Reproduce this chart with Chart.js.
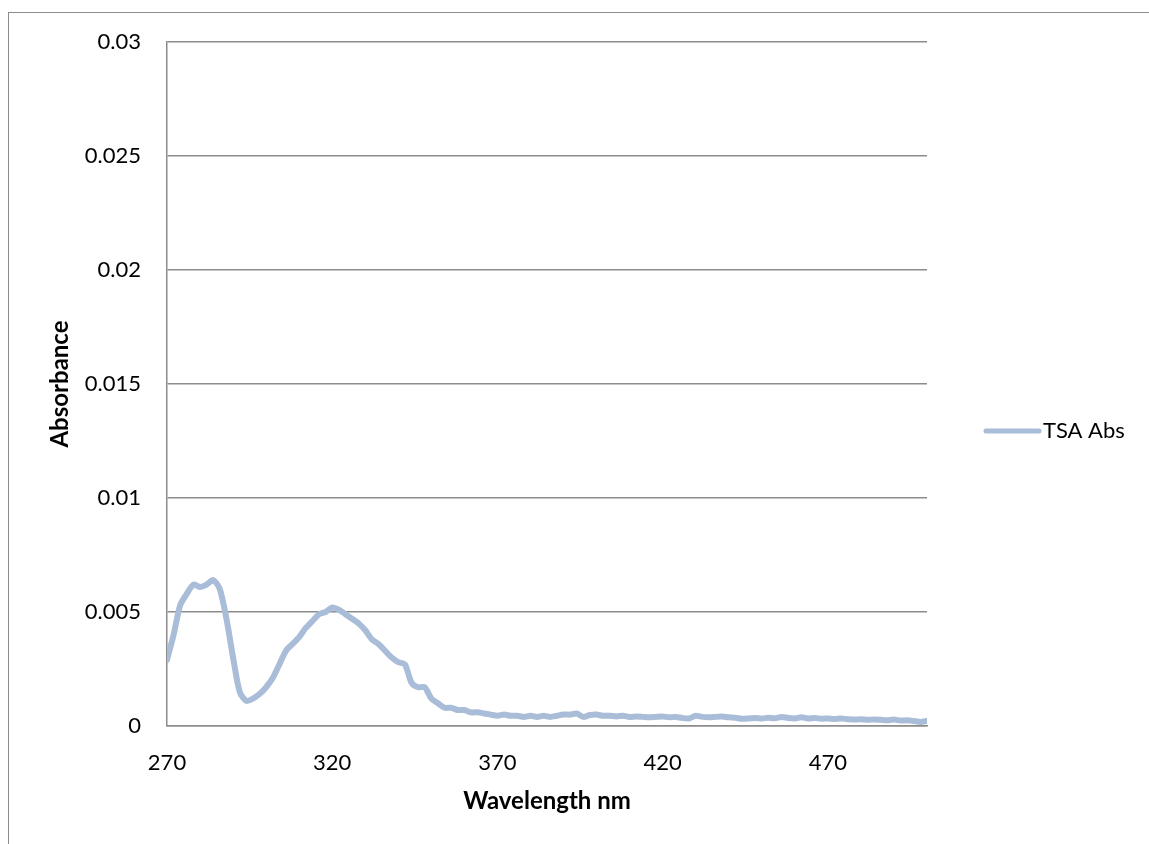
<!DOCTYPE html>
<html>
<head>
<meta charset="utf-8">
<script src="https://cdn.jsdelivr.net/npm/chart.js@4"></script>
<style>
  html, body { margin: 0; padding: 0; background: #fff; overflow: hidden; }
  #frame { position: absolute; left: 8px; top: 12px; width: 1200px; height: 900px; border: 1px solid #8c8c8c; box-sizing: border-box; }
  #wrap { position: absolute; left: 0; top: 0; width: 1149px; height: 844px; }
</style>
</head>
<body>
<div id="frame"></div>
<div id="wrap"><canvas id="ChartCanvas" width="1149" height="844"></canvas></div>
<script>
var seriesLabel = "TSA Abs";

// wavelength in nm, 2 nm steps
var wavelength = [
  270, 272, 274, 276, 278, 280, 282, 284, 286, 288,
  290, 292, 294, 296, 298, 300, 302, 304, 306, 308,
  310, 312, 314, 316, 318, 320, 322, 324, 326, 328,
  330, 332, 334, 336, 338, 340, 342, 344, 346, 348,
  350, 352, 354, 356, 358, 360, 362, 364, 366, 368,
  370, 372, 374, 376, 378, 380, 382, 384, 386, 388,
  390, 392, 394, 396, 398, 400, 402, 404, 406, 408,
  410, 412, 414, 416, 418, 420, 422, 424, 426, 428,
  430, 432, 434, 436, 438, 440, 442, 444, 446, 448,
  450, 452, 454, 456, 458, 460, 462, 464, 466, 468,
  470, 472, 474, 476, 478, 480, 482, 484, 486, 488,
  490, 492, 494, 496, 498, 500
];

// absorbance
var absorbance = [
  0.0029, 0.0040, 0.0053, 0.0058, 0.0062, 0.0061, 0.0062, 0.0064, 0.0060, 0.0047,
  0.0030, 0.0015, 0.0011, 0.0012, 0.0014, 0.0017, 0.0021, 0.0027, 0.0033, 0.0036,
  0.0039, 0.0043, 0.0046, 0.0049, 0.0050, 0.0052, 0.0051, 0.0049, 0.0047, 0.0045,
  0.0042, 0.0038, 0.0036, 0.0033, 0.0030, 0.0028, 0.0027, 0.0019, 0.0017, 0.0017,
  0.0012, 0.0010, 0.0008, 0.0008, 0.0007, 0.0007, 0.0006, 0.0006, 0.00055, 0.0005,
  0.00045, 0.0005, 0.00045, 0.00045, 0.0004, 0.00045, 0.0004, 0.00045, 0.0004, 0.00045,
  0.0005, 0.0005, 0.00055, 0.0004, 0.00048, 0.0005, 0.00045, 0.00045, 0.00042, 0.00045,
  0.0004, 0.00042, 0.0004, 0.00038, 0.0004, 0.00042, 0.00038, 0.0004, 0.00035, 0.00033,
  0.00045, 0.0004, 0.00038, 0.0004, 0.00042, 0.00038, 0.00036, 0.00032, 0.00033, 0.00035,
  0.00033, 0.00036, 0.00034, 0.0004, 0.00035, 0.00033, 0.00038, 0.00033, 0.00035, 0.00032,
  0.00033, 0.00031, 0.00033, 0.0003, 0.00028, 0.0003, 0.00027, 0.00029, 0.00027, 0.00025,
  0.00028, 0.00024, 0.00025, 0.00022, 0.00018, 0.00022
];

var xTicks = [270, 320, 370, 420, 470];
var yTicks = [0, 0.005, 0.01, 0.015, 0.02, 0.025, 0.03];
var yTickLabels = ["0", "0.005", "0.01", "0.015", "0.02", "0.025", "0.03"];

var lineColor = '#aabdd8';
var gridColor = '#8c8c8c';
var fontFamily = 'Lato, "Open Sans", sans-serif';

var chartContext = document.getElementById("ChartCanvas").getContext("2d");

// simple legend drawn to the right of the plot (Excel style)
var sideLegend = {
  id: 'sideLegend',
  afterDraw: function (chart) {
    var ctx = chart.ctx;
    var area = chart.chartArea;
    var ds = chart.data.datasets[0];
    var x0 = area.right + 59;
    var y = 431;
    ctx.save();
    ctx.strokeStyle = ds.borderColor;
    ctx.lineWidth = 5;
    ctx.lineCap = 'round';
    ctx.beginPath();
    ctx.moveTo(x0, y);
    ctx.lineTo(x0 + 53, y);
    ctx.stroke();
    ctx.fillStyle = '#000';
    ctx.font = '22px ' + fontFamily;
    ctx.textBaseline = 'middle';
    ctx.fillText(ds.label, x0 + 57, y);
    ctx.restore();
  }
};

var config = {
  type: 'line',
  data: {
    datasets: [{
      label: seriesLabel,
      data: wavelength.map(function (w, i) { return { x: w, y: absorbance[i] }; }),
      borderColor: lineColor,
      backgroundColor: lineColor,
      borderWidth: 6,
      pointRadius: 0,
      tension: 0.25,
      borderCapStyle: 'round',
      borderJoinStyle: 'round',
      fill: false
    }]
  },
  options: {
    responsive: false,
    animation: false,
    layout: { padding: { left: 0, top: 42, right: 222, bottom: 0 } },
    plugins: {
      legend: { display: false },
      tooltip: { enabled: false }
    },
    scales: {
      x: {
        type: 'linear',
        min: 270,
        max: 500,
        afterBuildTicks: function (scale) {
          scale.ticks = xTicks.map(function (v) { return { value: v }; });
        },
        afterFit: function (scale) { scale.height = 844 - 726; },
        grid: { display: false, drawTicks: false },
        border: { display: true, color: gridColor, width: 1.5 },
        ticks: {
          padding: 24,
          color: '#000',
          font: { family: fontFamily, size: 22 },
          maxRotation: 0,
          autoSkip: false
        },
        title: {
          display: true,
          text: 'Wavelength nm',
          color: '#000',
          font: { family: fontFamily, size: 24, weight: 'bold' },
          padding: { top: 0, bottom: 28 }
        }
      },
      y: {
        type: 'linear',
        min: 0,
        max: 0.03,
        afterBuildTicks: function (scale) {
          scale.ticks = yTicks.map(function (v) { return { value: v }; });
        },
        afterFit: function (scale) { scale.width = 167; },
        grid: { color: gridColor, lineWidth: 1.5, drawTicks: false },
        border: { display: true, color: gridColor, width: 1.5 },
        ticks: {
          padding: 26,
          color: '#000',
          font: { family: fontFamily, size: 22 },
          callback: function (value, index) { return yTickLabels[index]; }
        },
        title: {
          display: true,
          text: 'Absorbance',
          color: '#000',
          font: { family: fontFamily, size: 24, weight: 'bold' },
          padding: { top: 46, bottom: 0 }
        }
      }
    }
  },
  plugins: [sideLegend]
};

var createdChart = new Chart(chartContext, config);
</script>
</body>
</html>
